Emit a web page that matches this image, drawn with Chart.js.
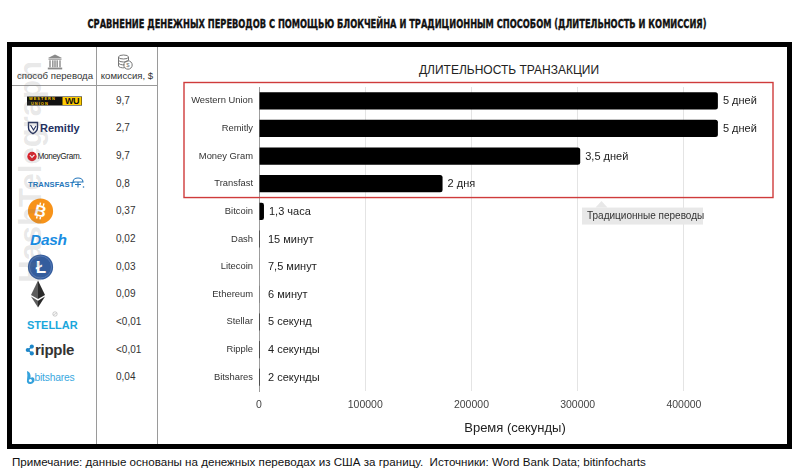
<!DOCTYPE html>
<html><head><meta charset="utf-8">
<script src="https://cdn.jsdelivr.net/npm/chart.js@4.4.1/dist/chart.umd.min.js"></script>
<style>
html,body{margin:0;padding:0;background:#fff;}
body{width:800px;height:473px;position:relative;overflow:hidden;font-family:"Liberation Sans",Arial,Helvetica,sans-serif;color:#222;}
#titleSpan{position:absolute;top:16px;left:396.5px;white-space:nowrap;font:bold 12.5px "DejaVu Sans Condensed","Liberation Sans Narrow",sans-serif;color:#111;-webkit-text-stroke:0.35px #111;transform-origin:0 50%;}
#frame{position:absolute;left:7px;top:42px;width:785px;height:407px;border:5px solid #000;box-sizing:border-box;}
.vline{position:absolute;width:1px;background:#9a9a9a;top:47px;height:397px;}
.hline{position:absolute;height:1px;background:#9a9a9a;left:12px;width:145px;top:85px;}
.head{position:absolute;top:70px;font-size:9.6px;color:#333;text-align:center;white-space:nowrap;}
.logo{position:absolute;left:12px;width:84px;height:30px;}
.fee{position:absolute;left:116px;font-size:10px;color:#333;line-height:14px;white-space:nowrap;}
#chartWrap{position:absolute;left:157px;top:47px;width:630px;height:396px;}
#watermark{position:absolute;left:31px;top:172px;transform:translate(-50%,-50%) rotate(-90deg);font:bold 31px "Liberation Sans",Arial,sans-serif;color:rgba(120,120,120,0.18);white-space:nowrap;pointer-events:none;}
#chartTitle{position:absolute;top:63px;left:409px;width:200px;text-align:center;font-size:12px;color:#222;white-space:nowrap;}
#footer{position:absolute;left:12px;top:455px;font-size:11.6px;color:#111;white-space:nowrap;}
</style></head>
<body>
<span id="titleSpan">СРАВНЕНИЕ ДЕНЕЖНЫХ ПЕРЕВОДОВ С ПОМОЩЬЮ БЛОКЧЕЙНА И ТРАДИЦИОННЫМ СПОСОБОМ (ДЛИТЕЛЬНОСТЬ И КОМИССИЯ)</span>
<div id="frame"></div>
<div class="vline" style="left:96px"></div>
<div class="vline" style="left:157px"></div>
<div class="hline"></div>
<svg style="position:absolute;left:47px;top:54px" width="16" height="16" viewBox="0 0 16 16">
  <path d="M8,0.5 L15,4 L1,4 Z" fill="#8a8a8a"/>
  <rect x="1.5" y="4.5" width="13" height="1.2" fill="#8a8a8a"/>
  <g fill="#9a9a9a"><rect x="2.2" y="6.3" width="1.6" height="7"/><rect x="5" y="6.3" width="1.6" height="7"/><rect x="9.4" y="6.3" width="1.6" height="7"/><rect x="12.2" y="6.3" width="1.6" height="7"/><rect x="7.2" y="6.3" width="1.6" height="7"/></g>
  <rect x="0.8" y="13.6" width="14.4" height="1.8" fill="#8a8a8a"/>
</svg>
<svg style="position:absolute;left:117px;top:54px" width="16" height="17" viewBox="0 0 16 17">
  <g fill="none" stroke="#777" stroke-width="1">
  <ellipse cx="6.5" cy="3" rx="5" ry="2"/>
  <path d="M1.5,3 v3 a5,2 0 0 0 10,0 v-3"/>
  <path d="M1.5,6 v3 a5,2 0 0 0 6,1.8"/>
  <path d="M1.5,9 v3 a5,2 0 0 0 6,1.8"/>
  <circle cx="11" cy="11" r="4.2"/>
  </g>
  <text x="11" y="13" font-size="6" text-anchor="middle" fill="#777" font-family="Liberation Sans,Arial">$</text>
</svg>
<div class="head" style="left:12px;width:86px;">способ перевода</div>
<div class="head" style="left:97px;width:60px;">комиссия, $</div>
<div id="chartTitle">ДЛИТЕЛЬНОСТЬ ТРАНЗАКЦИИ</div>
<div id="chartWrap"><canvas id="c" width="630" height="396" style="width:630px;height:396px"></canvas></div>
<div id="watermark">HashTelegraph</div>
<div id="footer">Примечание: данные основаны на денежных переводах из США за границу.&nbsp; Источники: Word Bank Data; bitinfocharts</div>
<script>
// ---- data ----
const categories = ["Western Union","Remitly","Money Gram","Transfast","Bitcoin","Dash","Litecoin","Ethereum","Stellar","Ripple","Bitshares"];
const durationSeconds = [432000,432000,302400,172800,4680,900,450,360,5,4,2];
const durationLabels = ["5 дней","5 дней","3,5 дней","2 дня","1,3 часа","15 минут","7,5 минут","6 минут","5 секунд","4 секунды","2 секунды"];
const commissions = ["9,7","2,7","9,7","0,8","0,37","0,02","0,03","0,09","<0,01","<0,01","0,04"];
const xTickValues = [0,100000,200000,300000,400000];
const traditionalCount = 4;
const calloutText = "Традиционные переводы";
const xTitle = "Время (секунды)";

// ---- logos (decorative) ----
const LOGOS = {
 "Western Union": `<rect x="15" y="10.5" width="55" height="9" fill="#111"/>
   <text x="17" y="14.2" font-size="3.9" font-weight="bold" fill="#ffcc00" letter-spacing="1.05" font-family="Liberation Sans,Arial">WESTERN</text>
   <text x="19" y="18.6" font-size="3.9" font-weight="bold" fill="#ffcc00" letter-spacing="1.05" font-family="Liberation Sans,Arial">UNION</text>
   <rect x="50.5" y="11" width="19" height="8" fill="#ffcc00"/>
   <text x="60" y="18.3" font-size="9" font-weight="bold" text-anchor="middle" fill="#111" font-family="Liberation Sans,Arial" letter-spacing="-0.6">WU</text>`,
 "Remitly": `<path d="M16.5,9.5 h9 v5 c0,3.2 -2.6,5.2 -4.5,6.2 c-1.9,-1 -4.5,-3 -4.5,-6.2z" fill="none" stroke="#24315f" stroke-width="1.4"/>
   <path d="M18.5,12 l3,5 l2.5,-4" fill="none" stroke="#24315f" stroke-width="1.1"/>
   <text x="28" y="19.2" font-size="11" font-weight="bold" fill="#24315f" font-family="Liberation Sans,Arial">Remitly</text>`,
 "Money Gram": `<circle cx="20" cy="15.5" r="4.7" fill="#d8222b"/>
   <path d="M17.8,14 l2.2,2.4 l2.4,-2.6" fill="none" stroke="#fff" stroke-width="1.1"/>
   <text x="25.5" y="18.3" font-size="8.2" fill="#222" letter-spacing="-0.35" font-family="Liberation Sans,Arial">MoneyGram.</text>`,
 "Transfast": `<text x="16" y="18.3" font-size="7.6" font-weight="bold" fill="#2476ba" letter-spacing="0.1" font-family="Liberation Sans,Arial">TRANSFAST</text>
   <path d="M61,13 a5,4 0 0 1 10,0 z" fill="none" stroke="#2476ba" stroke-width="1.1"/>
   <path d="M66,13 v5.5 M63,15.5 h6" stroke="#2476ba" stroke-width="1.1"/>
   <circle cx="71.5" cy="18" r="0.8" fill="#2476ba"/>`,
 "Bitcoin": `<circle cx="28.5" cy="15" r="12.6" fill="#f7931a"/>
   <g transform="rotate(14 28.5 15)"><text x="28.5" y="20.6" font-size="16" font-weight="bold" fill="#fff" text-anchor="middle" font-family="Liberation Sans,Arial">B</text>
   <path d="M26.5,6.8 v2.5 M30,6.8 v2.5 M26.5,20.8 v2.4 M30,20.8 v2.4" stroke="#fff" stroke-width="1.4"/></g>`,
 "Dash": `<text x="18" y="20.5" font-size="15.5" font-weight="bold" font-style="italic" fill="#1a8de2" letter-spacing="-0.3" font-family="Liberation Sans,Arial">Dash</text>`,
 "Litecoin": `<circle cx="28.5" cy="15" r="12.6" fill="#345d9d"/>
   <circle cx="28.5" cy="15" r="11" fill="none" stroke="#5a7fbd" stroke-width="0.8"/>
   <text x="29" y="21" font-size="17" font-weight="bold" fill="#fff" text-anchor="middle" font-family="Liberation Sans,Arial">Ł</text>`,
 "Ethereum": `<polygon points="26,1.5 26,20 19,16" fill="#5c5c5c"/>
   <polygon points="26,1.5 33,16 26,20" fill="#2a2a2a"/>
   <polygon points="19,17.6 26,21.7 26,28.5" fill="#5c5c5c"/>
   <polygon points="33,17.6 26,21.7 26,28.5" fill="#2a2a2a"/>`,
 "Stellar": `<circle cx="43" cy="7" r="2.2" fill="none" stroke="#aaa" stroke-width="0.6"/>
   <path d="M41.5,7.8 l3,-1.6" stroke="#aaa" stroke-width="0.6"/>
   <text x="15" y="22.2" font-size="11" font-weight="bold" fill="#1ba7dc" font-family="Liberation Sans,Arial">STELLAR</text>`,
 "Ripple": `<path d="M16,15 L19.7,11.7 M16,15 L19.7,18.3" stroke="#1d86c8" stroke-width="1.2"/>
   <circle cx="15.8" cy="15" r="2.1" fill="#1d86c8"/><circle cx="19.8" cy="11.6" r="2.1" fill="#1d86c8"/><circle cx="19.8" cy="18.4" r="2.1" fill="#1d86c8"/>
   <text x="23" y="19.5" font-size="15" font-weight="bold" fill="#333" font-family="Liberation Sans,Arial" letter-spacing="-0.3">ripple</text>`,
 "Bitshares": `<path d="M15,9 c3,1 4,4 3.5,7 c2,-1.5 4,-0.5 4,2 c0,2.5 -2.5,4 -4.5,4 c-2.5,0 -3.5,-2 -3,-4 c0.5,-3 0.5,-6 0,-9z" fill="#35a2dc"/>
   <circle cx="18.4" cy="18.4" r="1.5" fill="#fff"/>
   <text x="22.5" y="18.8" font-size="10.3" fill="#3aa8e0" font-family="Liberation Sans,Arial" letter-spacing="-0.2">bitshares</text>`
};

// ---- plugins ----
const valueLabels = {
  id:'valueLabels',
  afterDatasetsDraw(chart){
    const {ctx, chartArea} = chart;
    const meta = chart.getDatasetMeta(0);
    ctx.save();
    ctx.font = '11px "Liberation Sans", Arial, sans-serif';
    ctx.fillStyle = '#222';
    ctx.textBaseline = 'middle';
    ctx.textAlign = 'left';
    meta.data.forEach((bar,i)=>{
      const x = Math.max(bar.x + 5, chartArea.left + 9);
      ctx.fillText(durationLabels[i], x, bar.y + 0.5);
    });
    ctx.restore();
  }
};
const traditionalBox = {
  id:'traditionalBox',
  afterDraw(chart){
    const {ctx, chartArea, scales:{y}} = chart;
    const step = y.getPixelForValue(1) - y.getPixelForValue(0);
    const top = y.getPixelForValue(0) - step/2 - 4.5;
    const bottom = y.getPixelForValue(traditionalCount-1) + step/2;
    const left = chartArea.left - 75, right = chartArea.right + 2;
    ctx.save();
    ctx.strokeStyle = '#cf3b3b';
    ctx.lineWidth = 1.4;
    ctx.strokeRect(left, top, right-left, bottom-top);
    // callout
    const bx = chartArea.left + 323, by = bottom + 10, bw = 121, bh = 17;
    const tipX = chartArea.left + 342.5;
    ctx.fillStyle = '#e8e8e8';
    ctx.fillRect(bx, by, bw, bh);
    ctx.beginPath();
    ctx.moveTo(tipX - 6, by); ctx.lineTo(tipX, by - 6.5); ctx.lineTo(tipX + 6, by); ctx.closePath();
    ctx.fill();
    ctx.fillStyle = '#333';
    ctx.font = '10px "Liberation Sans", Arial, sans-serif';
    ctx.textBaseline = 'middle';
    ctx.fillText(calloutText, bx + 5, by + bh/2 + 0.5);
    ctx.restore();
  }
};

const chart = new Chart(document.getElementById('c'), {
  type:'bar',
  data:{
    labels: categories,
    datasets:[{
      data: durationSeconds,
      backgroundColor:'#000',
      borderRadius:2.5,
      borderSkipped:'start',
      barPercentage:0.78,
      categoryPercentage:0.8
    }]
  },
  options:{
    indexAxis:'y',
    responsive:false,
    animation:false,
    devicePixelRatio: window.devicePixelRatio || 1,
    layout:{padding:{top:40,right:16,left:0,bottom:0}},
    plugins:{legend:{display:false},tooltip:{enabled:false},title:{display:false}},
    scales:{
      y:{
        grid:{display:false,drawTicks:false},
        border:{display:true,color:'#9d9d9d',width:1},
        ticks:{font:{size:9.4,family:'"Liberation Sans", Arial, sans-serif'},color:'#333',padding:6,autoSkip:false},
        afterFit(s){ s.width = 102; }
      },
      x:{
        min:0, max:482000,
        afterBuildTicks(s){ s.ticks = xTickValues.map(v=>({value:v})); },
        ticks:{font:{size:10.5,family:'"Liberation Sans", Arial, sans-serif'},color:'#444',padding:8,
               callback:(v)=> String(v)},
        grid:{color:'#e4e4e4',lineWidth:1,drawTicks:false},
        border:{display:false},
        title:{display:true,text:xTitle,color:'#222',font:{size:13,family:'"Liberation Sans", Arial, sans-serif'},padding:{top:4,bottom:7}},
        afterFit(s){ s.height = 52; }
      }
    }
  },
  plugins:[valueLabels, traditionalBox]
});

// ---- left table built from the same category scale ----
const yScale = chart.scales.y;
const wrapTop = 47;
categories.forEach((c,i)=>{
  const cy = wrapTop + yScale.getPixelForValue(i);
  const svg = document.createElementNS('http://www.w3.org/2000/svg','svg');
  svg.setAttribute('class','logo');
  svg.setAttribute('width','84'); svg.setAttribute('height','30');
  svg.setAttribute('viewBox','0 0 84 30');
  svg.style.top = (cy - 15) + 'px';
  svg.innerHTML = LOGOS[c] || '';
  document.body.insertBefore(svg, document.getElementById('watermark'));
  const f = document.createElement('div');
  f.className = 'fee';
  f.style.top = (cy - 7) + 'px';
  f.textContent = commissions[i];
  document.body.appendChild(f);
});

// fit the condensed title width and centre it
const ts = document.getElementById('titleSpan');
const w = ts.getBoundingClientRect().width;
ts.style.transform = 'translateX(' + (-619/2) + 'px) scaleX(' + (619 / w) + ')';
</script>
</body></html>
